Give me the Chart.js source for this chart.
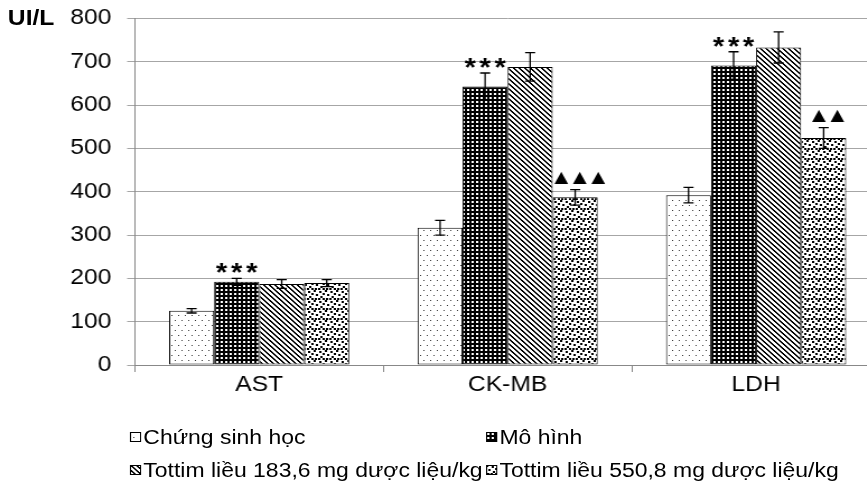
<!DOCTYPE html>
<html><head><meta charset="utf-8">
<script src="https://cdn.jsdelivr.net/npm/chart.js@4.4.1/dist/chart.umd.min.js"></script>
<style>
html,body{margin:0;padding:0;background:#fff;overflow:hidden;width:867px;height:496px;}
#wrap{position:absolute;left:0;top:0;width:786px;height:496px;transform:scaleX(1.12);transform-origin:0 0;font-family:"Liberation Sans",Arial,sans-serif;color:#000;}
#c{position:absolute;left:0;top:0;}
#unit{position:absolute;left:7px;top:6px;font-weight:bold;font-size:22px;line-height:24px;}
#legend{position:absolute;left:116px;top:420px;display:grid;grid-template-columns:auto auto;column-gap:3px;font-size:20.5px;}
.item{display:flex;align-items:center;height:33px;white-space:nowrap;}
.item canvas{width:10px;height:10px;margin-right:2px;}
</style></head>
<body>
<div id="wrap">
<canvas id="c" width="786" height="496"></canvas>
<div id="unit">UI/L</div>
<div id="legend"></div>
</div>
<script>
const categories = ['AST', 'CK-MB', 'LDH'];
const seriesNames = ['Chứng sinh học', 'Mô hình', 'Tottim liều 183,6 mg dược liệu/kg', 'Tottim liều 550,8 mg dược liệu/kg'];
const chungSinhHoc = [125, 317, 392];
const moHinh = [192, 643, 691];
const tottim183 = [187, 688, 733];
const tottim550 = [189, 387, 524];
const chungErr = [5, 17, 18];
const moHinhErr = [8, 31, 32];
const tottim183Err = [10, 33, 36];
const tottim550Err = [8, 18, 24];
const moHinhMarks = ['***', '***', '***'];
const tottim550Marks = ['', '▲▲▲', '▲▲'];
const yTicks = [0, 100, 200, 300, 400, 500, 600, 700, 800];

const FONT = '"Liberation Sans", Arial, sans-serif';

function makeTile(w, h, fn) {
  const t = document.createElement('canvas');
  t.width = w; t.height = h;
  const g = t.getContext('2d');
  g.fillStyle = '#fff'; g.fillRect(0, 0, w, h);
  fn(g);
  return t;
}
const tiles = [
  makeTile(6, 10, g => { g.fillStyle = '#333'; g.fillRect(0, 0, 1, 1); g.fillRect(3, 5, 1, 1); }),
  makeTile(4, 4, g => { g.fillStyle = '#000'; g.fillRect(0, 0, 4, 4); g.fillStyle = '#fff'; g.fillRect(1, 1, 2, 2); }),
  makeTile(5, 5, g => { g.fillStyle = '#000'; for (let y = 0; y < 5; y++) { g.fillRect(y, y, 1, 1); g.fillRect((y + 1) % 5, y, 1, 1); } }),
  makeTile(10, 10, g => { g.fillStyle = '#000'; [[0,0],[5,1],[2,4],[8,3],[6,6],[1,8],[4,8],[8,8]].forEach(p => g.fillRect(p[0], p[1], 2, 2)); })
];
const mainCtx = document.getElementById('c').getContext('2d');
const patterns = tiles.map(t => mainCtx.createPattern(t, 'repeat'));

const values = [chungSinhHoc, moHinh, tottim183, tottim550];
const errors = [chungErr, moHinhErr, tottim183Err, tottim550Err];
const marks = [null, moHinhMarks, null, tottim550Marks];

const errPlugin = {
  id: 'errbars',
  afterDatasetsDraw(chart) {
    const c = chart.ctx, ys = chart.scales.y;
    c.save();
    c.strokeStyle = '#000'; c.lineWidth = 1.3;
    chart.data.datasets.forEach((ds, i) => {
      const meta = chart.getDatasetMeta(i);
      meta.data.forEach((bar, j) => {
        const v = ds.data[j], e = errors[i][j];
        const x = bar.x;
        const yt = ys.getPixelForValue(v + e), yb = ys.getPixelForValue(v - e);
        c.beginPath();
        c.moveTo(x, yt); c.lineTo(x, yb);
        c.moveTo(x - 4.5, yt); c.lineTo(x + 4.5, yt);
        c.moveTo(x - 4.5, yb); c.lineTo(x + 4.5, yb);
        c.stroke();
        const m = marks[i] ? marks[i][j] : '';
        if (m) {
          const chars = Array.from(m);
          const isStar = chars[0] === '*';
          c.fillStyle = '#000';
          c.font = isStar ? 'bold 26px ' + FONT : '16px "DejaVu Sans"';
          c.textAlign = 'center'; c.textBaseline = 'alphabetic';
          const met = c.measureText(chars[0]);
          const gap = isStar ? 5 : 6;
          const baseline = yt - gap - met.actualBoundingBoxDescent;
          const step = isStar ? 13.4 : 16.5;
          const cx = x + (isStar ? 0 : 4);
          chars.forEach((ch, k) => {
            c.fillText(ch, cx + (k - (chars.length - 1) / 2) * step, baseline);
          });
        }
      });
    });
    c.restore();
  }
};

new Chart(document.getElementById('c'), {
  type: 'bar',
  data: {
    labels: categories,
    datasets: values.map((vals, i) => ({
      label: seriesNames[i],
      data: vals,
      backgroundColor: patterns[i],
      borderColor: '#000',
      borderWidth: 1,
      borderSkipped: false,
      categoryPercentage: 0.725,
      barPercentage: 1
    }))
  },
  options: {
    responsive: false,
    animation: false,
    devicePixelRatio: 1,
    layout: { padding: { top: 17, left: 0, right: 0, bottom: 0 } },
    plugins: { legend: { display: false }, tooltip: { enabled: false } },
    scales: {
      x: {
        grid: { drawOnChartArea: false, tickLength: 7, color: '#888' },
        border: { color: '#888' },
        ticks: { font: { size: 22, family: FONT }, color: '#000', padding: 0 },
        afterFit(s) { s.height = 131; }
      },
      y: {
        min: 0, max: 800,
        afterBuildTicks(s) { s.ticks = yTicks.map(v => ({ value: v })); },
        grid: { color: '#a6a6a6', tickLength: 7 },
        border: { color: '#888' },
        ticks: { font: { size: 22, family: FONT, lineHeight: 0.4 }, color: '#000', padding: 14 },
        afterFit(s) { s.width = 120.5; }
      }
    }
  },
  plugins: [errPlugin]
});

const legend = document.getElementById('legend');
seriesNames.forEach((name, i) => {
  const item = document.createElement('div');
  item.className = 'item';
  const sw = document.createElement('canvas');
  sw.width = 10; sw.height = 10;
  const g = sw.getContext('2d');
  g.fillStyle = g.createPattern(tiles[i], 'repeat');
  g.fillRect(0, 0, 10, 10);
  g.strokeStyle = '#000'; g.lineWidth = 1;
  g.strokeRect(0.5, 0.5, 9, 9);
  item.appendChild(sw);
  const sp = document.createElement('span');
  sp.textContent = name;
  item.appendChild(sp);
  legend.appendChild(item);
});
</script>
</body></html>
